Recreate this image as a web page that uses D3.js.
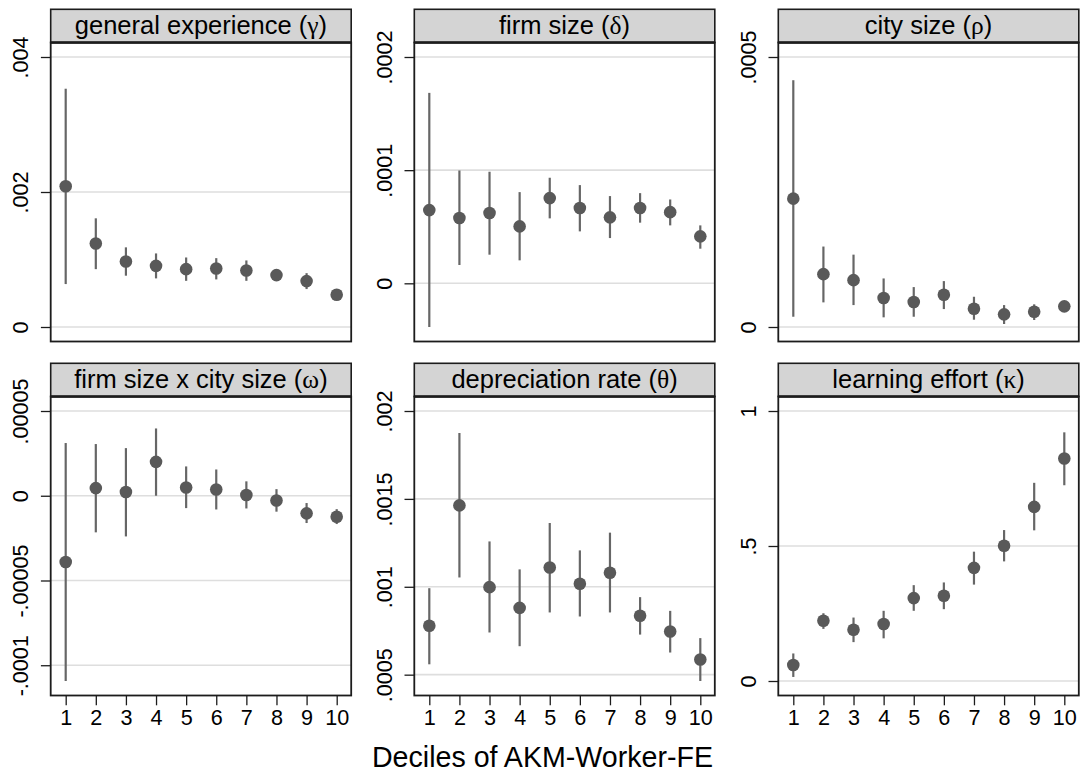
<!DOCTYPE html>
<html>
<head>
<meta charset="utf-8">
<script src="https://cdn.jsdelivr.net/npm/d3@7"></script>
<style>
  html, body { margin: 0; padding: 0; background: #ffffff; }
  svg { display: block; }
  text { font-family: "Liberation Sans", Arial, Helvetica, sans-serif; fill: #000; }
</style>
</head>
<body>
<svg id="chart" width="1081" height="776"></svg>
<script>
// Deciles shown on every panel's x axis
const deciles = [1, 2, 3, 4, 5, 6, 7, 8, 9, 10];

// general experience (gamma): estimate and 95% interval
const gammaEst = [0.002085, 0.001237, 0.000970, 0.000906, 0.000857, 0.000867, 0.000838, 0.000769, 0.000680, 0.000478];
const gammaLo  = [0.000636, 0.000857, 0.000760, 0.000720, 0.000684, 0.000705, 0.000684, 0.000722, 0.000562, 0.000440];
const gammaHi  = [0.003530, 0.001610, 0.001180, 0.001090, 0.001030, 0.001020, 0.000986, 0.000815, 0.000798, 0.000520];

// firm size (delta)
const deltaEst = [6.47e-5, 5.77e-5, 6.21e-5, 5.03e-5, 7.53e-5, 6.65e-5, 5.83e-5, 6.65e-5, 6.29e-5, 4.15e-5];
const deltaLo  = [-3.86e-5, 1.62e-5, 2.53e-5, 2.03e-5, 5.74e-5, 4.59e-5, 4.00e-5, 5.36e-5, 5.12e-5, 3.06e-5];
const deltaHi  = [1.683e-4, 9.97e-5, 9.86e-5, 8.06e-5, 9.33e-5, 8.68e-5, 7.71e-5, 7.97e-5, 7.41e-5, 5.12e-5];

// city size (rho)
const rhoEst = [2.377e-4, 9.79e-5, 8.68e-5, 5.36e-5, 4.62e-5, 5.97e-5, 3.38e-5, 2.34e-5, 2.83e-5, 3.82e-5];
const rhoLo  = [1.9e-5, 4.56e-5, 4.06e-5, 1.79e-5, 1.9e-5, 3.32e-5, 1.35e-5, 5.5e-6, 1.3e-5, 3.6e-5];
const rhoHi  = [4.57e-4, 1.49e-4, 1.34e-4, 8.99e-5, 7.39e-5, 8.5e-5, 5.6e-5, 4.06e-5, 4.2e-5, 4.05e-5];

// firm size x city size (omega)
const omegaEst = [-3.91e-5, 4.5e-6, 2.2e-6, 2.0e-5, 4.9e-6, 3.7e-6, 0.4e-6, -2.8e-6, -1.04e-5, -1.24e-5];
const omegaLo  = [-1.093e-4, -2.16e-5, -2.4e-5, 0.0, -7.3e-6, -8.1e-6, -7.5e-6, -9.4e-6, -1.61e-5, -1.67e-5];
const omegaHi  = [3.11e-5, 3.05e-5, 2.81e-5, 3.97e-5, 1.73e-5, 1.55e-5, 8.5e-6, 3.9e-6, -4.3e-6, -7.9e-6];

// depreciation rate (theta)
const thetaEst = [0.000778, 0.001463, 0.000998, 0.000880, 0.001110, 0.001017, 0.001080, 0.000835, 0.000746, 0.000586];
const thetaLo  = [0.000559, 0.001053, 0.000740, 0.000662, 0.000854, 0.000831, 0.000854, 0.000728, 0.000626, 0.000464];
const thetaHi  = [0.000992, 0.001875, 0.001258, 0.001099, 0.001363, 0.001207, 0.001308, 0.000941, 0.000863, 0.000708];

// learning effort (kappa)
const kappaEst = [0.059, 0.223, 0.190, 0.211, 0.307, 0.316, 0.419, 0.501, 0.645, 0.824];
const kappaLo  = [0.015, 0.193, 0.144, 0.158, 0.260, 0.266, 0.357, 0.443, 0.558, 0.725];
const kappaHi  = [0.102, 0.251, 0.235, 0.260, 0.355, 0.365, 0.479, 0.559, 0.734, 0.921];

// Panel titles (text + Greek symbol) and y-axis ticks with their labels
const titles = [
  ["general experience (", "\u03b3", ")"],
  ["firm size (", "\u03b4", ")"],
  ["city size (", "\u03c1", ")"],
  ["firm size x city size (", "\u03c9", ")"],
  ["depreciation rate (", "\u03b8", ")"],
  ["learning effort (", "\u03ba", ")"]
];
const gammaTicks = [0, 0.002, 0.004],            gammaTickLabels = ["0", ".002", ".004"];
const deltaTicks = [0, 0.0001, 0.0002],          deltaTickLabels = ["0", ".0001", ".0002"];
const rhoTicks   = [0, 0.0005],                  rhoTickLabels   = ["0", ".0005"];
const omegaTicks = [-0.0001, -0.00005, 0, 0.00005], omegaTickLabels = ["-.0001", "-.00005", "0", ".00005"];
const thetaTicks = [0.0005, 0.001, 0.0015, 0.002],  thetaTickLabels = [".0005", ".001", ".0015", ".002"];
const kappaTicks = [0, 0.5, 1],                  kappaTickLabels = ["0", ".5", "1"];

const xTitle = "Deciles of AKM-Worker-FE";

const panels = [
  { title: titles[0], est: gammaEst, lo: gammaLo, hi: gammaHi, ticks: gammaTicks, labels: gammaTickLabels },
  { title: titles[1], est: deltaEst, lo: deltaLo, hi: deltaHi, ticks: deltaTicks, labels: deltaTickLabels },
  { title: titles[2], est: rhoEst,   lo: rhoLo,   hi: rhoHi,   ticks: rhoTicks,   labels: rhoTickLabels },
  { title: titles[3], est: omegaEst, lo: omegaLo, hi: omegaHi, ticks: omegaTicks, labels: omegaTickLabels },
  { title: titles[4], est: thetaEst, lo: thetaLo, hi: thetaHi, ticks: thetaTicks, labels: thetaTickLabels },
  { title: titles[5], est: kappaEst, lo: kappaLo, hi: kappaHi, ticks: kappaTicks, labels: kappaTickLabels }
];

// Layout of the 3 x 2 grid
const colLeft = [50.7, 414.3, 778.3];
const colW = 300.5;
const rowTop = [9.3, 363.3];
const headH = 33.2;
const plotH = 299;
const pad = 14.5;
const frameColor = "#1c1c1c";
const gridColor = "#dedede";
const ciColor = "#666666";
const dotColor = "#595959";
const tickFont = "21.6px";

const svg = d3.select("#chart");
svg.append("rect").attr("width", 1081).attr("height", 776).attr("fill", "#fff");

panels.forEach((p, i) => {
  const col = i % 3, row = Math.floor(i / 3);
  const left = colLeft[col];
  const top = rowTop[row];
  const pTop = top + headH;
  const pBot = pTop + plotH;
  const g = svg.append("g");

  const x = d3.scaleLinear().domain([1, 10]).range([left + pad + 0.5, left + colW - pad]);
  const lo = Math.min(d3.min(p.ticks), d3.min(p.lo));
  const hi = Math.max(d3.max(p.ticks), d3.max(p.hi));
  const y = d3.scaleLinear().domain([lo, hi]).range([pBot - pad, pTop + pad]);

  // plot area
  g.append("rect").attr("x", left).attr("y", pTop).attr("width", colW).attr("height", plotH)
    .attr("fill", "#fff");

  // horizontal grid lines
  g.selectAll("line.grid").data(p.ticks).join("line").attr("class", "grid")
    .attr("x1", left).attr("x2", left + colW)
    .attr("y1", d => y(d)).attr("y2", d => y(d))
    .attr("stroke", gridColor).attr("stroke-width", 1.6);

  // confidence intervals
  g.selectAll("line.ci").data(deciles).join("line").attr("class", "ci")
    .attr("x1", d => x(d)).attr("x2", d => x(d))
    .attr("y1", (d, k) => y(p.lo[k])).attr("y2", (d, k) => y(p.hi[k]))
    .attr("stroke", ciColor).attr("stroke-width", 2.2);

  // point estimates
  g.selectAll("circle").data(deciles).join("circle")
    .attr("cx", d => x(d)).attr("cy", (d, k) => y(p.est[k]))
    .attr("r", 6.3).attr("fill", dotColor);

  // frame
  g.append("rect").attr("x", left).attr("y", pTop).attr("width", colW).attr("height", plotH)
    .attr("fill", "none").attr("stroke", frameColor).attr("stroke-width", 1.8);

  // y axis
  const yAxis = d3.axisLeft(y).tickValues(p.ticks)
    .tickFormat((d, k) => p.labels[k]).tickSize(9.8).tickPadding(0);
  const ya = g.append("g").attr("transform", `translate(${left},0)`).call(yAxis);
  ya.select(".domain").remove();
  ya.selectAll(".tick line").attr("stroke", frameColor).attr("stroke-width", 1.3);
  ya.selectAll(".tick text")
    .attr("x", null).attr("dy", null)
    .attr("transform", "translate(-22.3,0) rotate(-90)")
    .attr("text-anchor", "middle")
    .style("font-family", "'Liberation Sans', Arial, sans-serif")
    .style("font-size", tickFont).attr("fill", "#000");
  ya.attr("font-size", null).attr("font-family", null);

  // x axis on the bottom row only
  if (row === 1) {
    const xAxis = d3.axisBottom(x).tickValues(deciles).tickFormat(d3.format("d"))
      .tickSize(9.8).tickPadding(0);
    const xa = g.append("g").attr("transform", `translate(0,${pBot})`).call(xAxis);
    xa.select(".domain").remove();
    xa.selectAll(".tick line").attr("stroke", frameColor).attr("stroke-width", 1.3);
    xa.selectAll(".tick text")
      .attr("y", 29.8).attr("dy", null)
      .style("font-family", "'Liberation Sans', Arial, sans-serif")
      .style("font-size", tickFont).attr("fill", "#000");
    xa.attr("font-size", null).attr("font-family", null);
  }

  // header strip
  g.append("rect").attr("x", left).attr("y", top).attr("width", colW).attr("height", headH)
    .attr("fill", "#d4d4d4").attr("stroke", frameColor).attr("stroke-width", 1.6);
  g.append("line").attr("x1", left).attr("x2", left + colW)
    .attr("y1", pTop).attr("y2", pTop).attr("stroke", frameColor).attr("stroke-width", 2.6);
  const t = g.append("text").attr("x", left + colW / 2).attr("y", top + 24.6)
    .attr("text-anchor", "middle").style("font-size", "25.5px");
  t.append("tspan").text(p.title[0]);
  t.append("tspan").style("font-family", "'Liberation Serif', 'Times New Roman', serif").text(p.title[1]);
  t.append("tspan").text(p.title[2]);
});

// shared x-axis title
svg.append("text").attr("x", 542.5).attr("y", 766.5).attr("text-anchor", "middle")
  .style("font-size", "28.6px").text(xTitle);
</script>
</body>
</html>
